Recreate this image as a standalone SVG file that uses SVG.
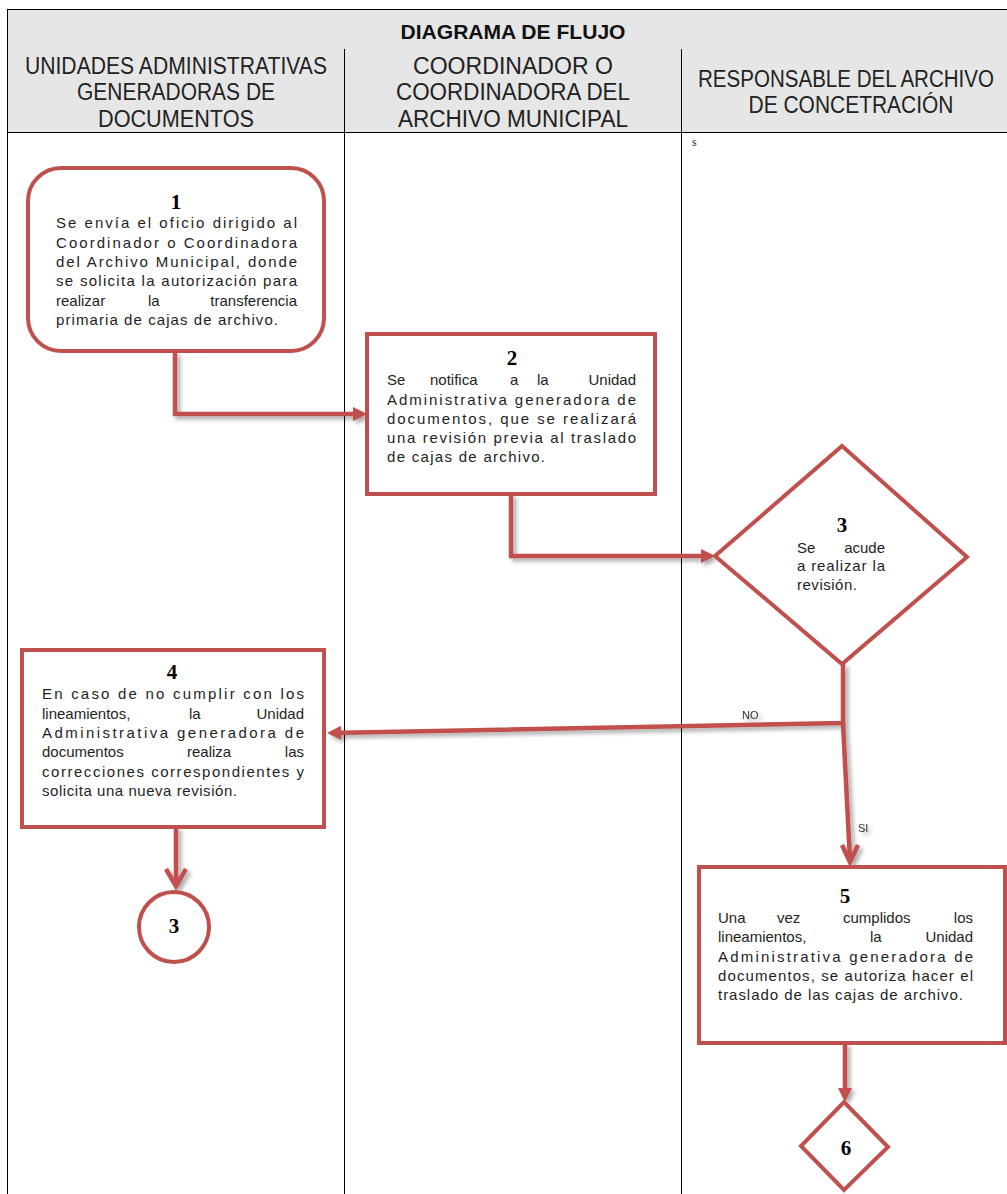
<svg xmlns="http://www.w3.org/2000/svg" width="1007" height="1194" viewBox="0 0 1007 1194">
<defs>
<style>
.hdr{font-family:"Liberation Sans",Arial,sans-serif;font-size:23px;fill:#222;text-anchor:middle}
.ttl{font-family:"Liberation Sans",Arial,sans-serif;font-size:21px;font-weight:bold;fill:#111;text-anchor:middle}
.b{font-family:"Liberation Sans",Arial,sans-serif;font-size:15px;fill:#1e1e1e}
.e{text-anchor:end}
.n{font-family:"Liberation Serif","Times New Roman",serif;font-size:21px;font-weight:bold;fill:#000;text-anchor:middle}
.shape{fill:#fff;stroke:#c0504d;stroke-width:4}
.con{fill:none;stroke:#c0504d;stroke-width:4.5}
.lbl{font-family:"Liberation Sans",Arial,sans-serif;font-size:11px;fill:#333}
.grid{stroke:#000;stroke-width:1;fill:none}
</style>
<marker id="tri" markerUnits="userSpaceOnUse" viewBox="0 0 14 14" markerWidth="14" markerHeight="14" refX="10" refY="7" orient="auto">
<path d="M0,0 L14,7 L0,14 z" fill="#c0504d"/>
</marker>
<filter id="sh" x="-20%" y="-20%" width="140%" height="140%">
<feDropShadow dx="3" dy="3" stdDeviation="2" flood-color="#000" flood-opacity="0.35"/>
</filter>
</defs>

<g id="table">
<rect x="7.5" y="9.5" width="999.5" height="123" fill="#e6e6e6"/>
<line class="grid" x1="7.5" y1="9.5" x2="1007" y2="9.5"/>
<line class="grid" x1="7.5" y1="132.5" x2="1007" y2="132.5"/>
<line class="grid" x1="7.5" y1="9" x2="7.5" y2="1194"/>
<line class="grid" x1="344.5" y1="49" x2="344.5" y2="1194"/>
<line class="grid" x1="681.5" y1="49" x2="681.5" y2="1194"/>
<text class="ttl" x="513" y="39" textLength="225" lengthAdjust="spacingAndGlyphs">DIAGRAMA DE FLUJO</text>
<text class="hdr" x="176" y="74" textLength="302" lengthAdjust="spacingAndGlyphs">UNIDADES ADMINISTRATIVAS</text>
<text class="hdr" x="176" y="100" textLength="198" lengthAdjust="spacingAndGlyphs">GENERADORAS DE</text>
<text class="hdr" x="176" y="127" textLength="156" lengthAdjust="spacingAndGlyphs">DOCUMENTOS</text>
<text class="hdr" x="513" y="74" textLength="200" lengthAdjust="spacingAndGlyphs">COORDINADOR O</text>
<text class="hdr" x="513" y="100" textLength="234" lengthAdjust="spacingAndGlyphs">COORDINADORA DEL</text>
<text class="hdr" x="513" y="127" textLength="230" lengthAdjust="spacingAndGlyphs">ARCHIVO MUNICIPAL</text>
<text class="hdr" x="846" y="87" font-size="21.5" textLength="296" lengthAdjust="spacingAndGlyphs">RESPONSABLE DEL ARCHIVO</text>
<text class="hdr" x="851" y="113" textLength="205" lengthAdjust="spacingAndGlyphs">DE CONCETRACIÓN</text>
<text x="692" y="146" font-family="Liberation Serif, serif" font-size="12" fill="#222">s</text>
</g>

<g id="connectors" filter="url(#sh)">
<path class="con" d="M175,352 V414 H363" marker-end="url(#tri)"/>
<path class="con" d="M511,494 V556 H711" marker-end="url(#tri)"/>
<path class="con" d="M843,664 V723 L331,733" marker-end="url(#tri)"/>
<path class="con" d="M843,723 L850,860"/>
<polyline class="con" points="842,845 850,862 858,845"/>
<path class="con" d="M176,827 V885"/>
<polyline class="con" points="166,869 176,886 186,869"/>
<path class="con" d="M845,1043 V1098" marker-end="url(#tri)"/>
<text class="lbl" x="742" y="719">NO</text>
<text class="lbl" x="858" y="832">SI</text>
</g>

<g id="node1">
<rect class="shape" x="28" y="168" width="296" height="183" rx="33"/>
<text class="n" x="176" y="209">1</text>
<text class="b" x="56" y="228" textLength="241" lengthAdjust="spacing">Se envía el oficio dirigido al</text>
<text class="b" x="56" y="248" textLength="241" lengthAdjust="spacing">Coordinador o Coordinadora</text>
<text class="b" x="56" y="267" textLength="241" lengthAdjust="spacing">del Archivo Municipal, donde</text>
<text class="b" x="56" y="286" textLength="241" lengthAdjust="spacing">se solicita la autorización para</text>
<text class="b" x="56" y="306">realizar</text>
<text class="b" x="148" y="306">la</text>
<text class="b e" x="297" y="306">transferencia</text>
<text class="b" x="56" y="325" textLength="222" lengthAdjust="spacing">primaria de cajas de archivo.</text>
</g>

<g id="node2">
<rect class="shape" x="367" y="334" width="288" height="160"/>
<text class="n" x="512" y="365">2</text>
<text class="b" x="387" y="385">Se</text>
<text class="b" x="430" y="385">notifica</text>
<text class="b" x="510" y="385">a</text>
<text class="b" x="537" y="385">la</text>
<text class="b e" x="636" y="385">Unidad</text>
<text class="b" x="387" y="405" textLength="249" lengthAdjust="spacing">Administrativa generadora de</text>
<text class="b" x="387" y="424" textLength="249" lengthAdjust="spacing">documentos, que se realizará</text>
<text class="b" x="387" y="443" textLength="249" lengthAdjust="spacing">una revisión previa al traslado</text>
<text class="b" x="387" y="462" textLength="158" lengthAdjust="spacing">de cajas de archivo.</text>
</g>

<g id="node3">
<polygon class="shape" points="842,446 967,557 842,664 715,556"/>
<text class="n" x="842" y="532">3</text>
<text class="b" x="797" y="553">Se</text>
<text class="b e" x="885" y="553">acude</text>
<text class="b" x="797" y="571" textLength="88" lengthAdjust="spacing">a realizar la</text>
<text class="b" x="797" y="590" textLength="60" lengthAdjust="spacing">revisión.</text>
</g>

<g id="node4">
<rect class="shape" x="22" y="650" width="302" height="177"/>
<text class="n" x="172" y="679">4</text>
<text class="b" x="42" y="699" textLength="262" lengthAdjust="spacing">En caso de no cumplir con los</text>
<text class="b" x="42" y="719">lineamientos,</text>
<text class="b" x="189" y="719">la</text>
<text class="b e" x="304" y="719">Unidad</text>
<text class="b" x="42" y="738" textLength="262" lengthAdjust="spacing">Administrativa generadora de</text>
<text class="b" x="42" y="757">documentos</text>
<text class="b" x="187" y="757">realiza</text>
<text class="b e" x="304" y="757">las</text>
<text class="b" x="42" y="777" textLength="262" lengthAdjust="spacing">correcciones correspondientes y</text>
<text class="b" x="42" y="796" textLength="195" lengthAdjust="spacing">solicita una nueva revisión.</text>
</g>

<g id="node3ref">
<circle class="shape" cx="174" cy="927" r="35"/>
<text class="n" x="174" y="933" font-size="19">3</text>
</g>

<g id="node5">
<rect class="shape" x="699" y="867" width="306" height="176"/>
<text class="n" x="845" y="903">5</text>
<text class="b" x="718" y="923">Una</text>
<text class="b" x="777" y="923">vez</text>
<text class="b" x="843" y="923">cumplidos</text>
<text class="b e" x="973" y="923">los</text>
<text class="b" x="718" y="942">lineamientos,</text>
<text class="b" x="870" y="942">la</text>
<text class="b e" x="973" y="942">Unidad</text>
<text class="b" x="718" y="962" textLength="255" lengthAdjust="spacing">Administrativa generadora de</text>
<text class="b" x="718" y="981" textLength="255" lengthAdjust="spacing">documentos, se autoriza hacer el</text>
<text class="b" x="718" y="1000" textLength="245" lengthAdjust="spacing">traslado de las cajas de archivo.</text>
</g>

<g id="node6">
<polygon class="shape" points="844,1102 888,1147 844,1190 801,1146"/>
<text class="n" x="846" y="1155">6</text>
</g>
</svg>
